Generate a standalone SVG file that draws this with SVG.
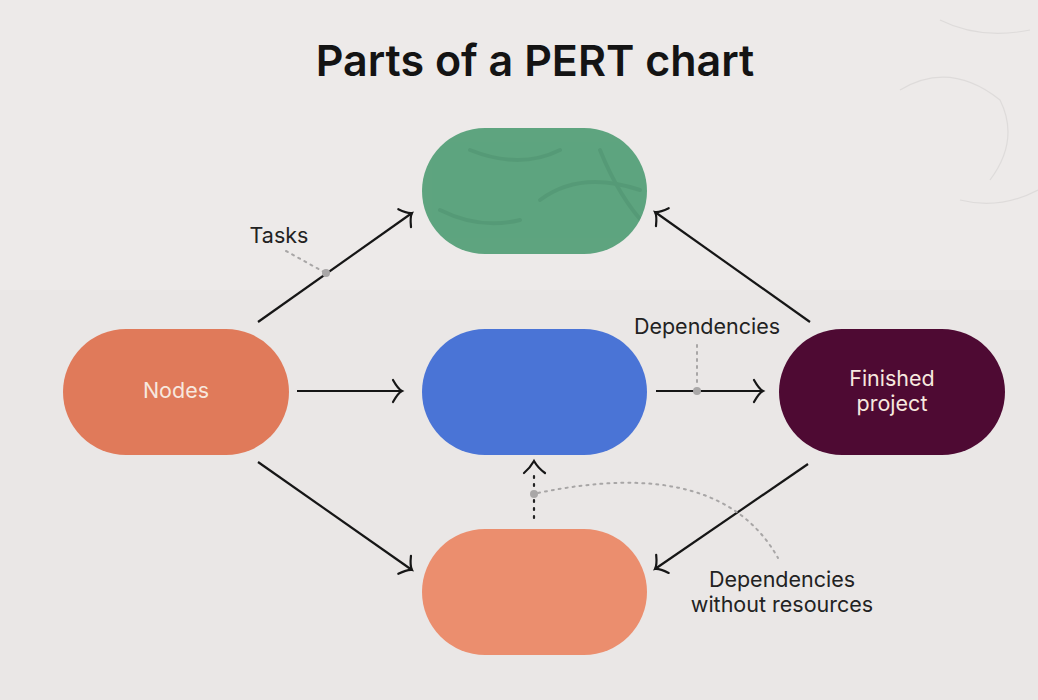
<svg xmlns="http://www.w3.org/2000/svg" width="1038" height="700" viewBox="0 0 1038 700">
  <style>
    .title { font-family: Inter, "Liberation Sans", sans-serif; font-weight: 600; font-size: 43px; fill: #141414; }
    .lbl { font-family: Inter, "Liberation Sans", sans-serif; font-size: 21.5px; fill: #222; }
    .nlbl { font-family: Inter, "Liberation Sans", sans-serif; font-size: 21.5px; fill: #F7E8DF; }
    .conn { stroke: #161616; stroke-width: 2.2; fill: none; }
    .dotted { stroke: #A8A6A6; stroke-width: 2; stroke-dasharray: 2 5; stroke-linecap: round; fill: none; }
    .blackdot { stroke: #222; stroke-width: 2.2; stroke-dasharray: 2 6; stroke-linecap: round; fill: none; }
    .pt { fill: #A9A7A7; }
  </style>
  <defs>
    <marker id="arr" markerUnits="userSpaceOnUse" markerWidth="30" markerHeight="30" viewBox="-20 -15 30 30" refX="0" refY="0" orient="auto">
      <path d="M -9 -11 Q -4 -2 0 0 Q -4 2 -9 11" fill="none" stroke="#161616" stroke-width="2.2" stroke-linecap="round"/>
    </marker>
    <clipPath id="gclip"><rect x="422" y="128" width="225" height="126" rx="63"/></clipPath>
  </defs>
  <rect width="1038" height="700" fill="#EDEAE9"/>
  <rect y="290" width="1038" height="410" fill="#EAE7E6"/>
  <g opacity="0.12" fill="none" stroke="#777" stroke-width="1.2">
    <path d="M 900 90 Q 950 60 1000 100 Q 1020 140 990 180"/>
    <path d="M 940 20 Q 980 40 1030 30"/>
    <path d="M 960 200 Q 1000 210 1038 190"/>
  </g>

  <text class="title" x="535" y="76" text-anchor="middle">Parts of a PERT chart</text>

  <g id="connectors">
    <line class="conn" x1="258" y1="322" x2="412" y2="213" marker-end="url(#arr)"/>
    <line class="conn" x1="297" y1="391" x2="402" y2="391" marker-end="url(#arr)"/>
    <line class="conn" x1="258" y1="462" x2="412" y2="570" marker-end="url(#arr)"/>
    <line class="conn" x1="656" y1="391" x2="763" y2="391" marker-end="url(#arr)"/>
    <line class="conn" x1="810" y1="322" x2="655" y2="212" marker-end="url(#arr)"/>
    <line class="conn" x1="808" y1="464" x2="655" y2="569" marker-end="url(#arr)"/>
    <line class="blackdot" x1="534" y1="518" x2="534" y2="476"/>
    <path d="M 524 473 Q 530 468 534 461 Q 538 468 545 473" fill="none" stroke="#161616" stroke-width="2.2" stroke-linecap="round"/>
    <line class="dotted" x1="286" y1="251" x2="324" y2="272"/>
    <circle class="pt" cx="326" cy="273" r="4"/>
    <line class="dotted" x1="697" y1="345" x2="697" y2="387"/>
    <circle class="pt" cx="697" cy="391" r="4"/>
    <path class="dotted" d="M 538 493 Q 720 455 778 558"/>
    <circle class="pt" cx="534" cy="494" r="4"/>
  </g>

  <g id="node-tasks">
    <rect x="422" y="128" width="225" height="126" rx="63" fill="#5EA47F"/>
    <g clip-path="url(#gclip)" fill="none" stroke="#3F7E5F" stroke-width="4" opacity="0.25" stroke-linecap="round">
      <path d="M 470 150 Q 520 170 560 150"/>
      <path d="M 540 200 Q 580 170 640 190"/>
      <path d="M 600 150 Q 620 200 650 230"/>
      <path d="M 440 210 Q 480 230 520 220"/>
    </g>
  </g>
  <g id="node-nodes">
    <rect x="63" y="329" width="226" height="126" rx="63" fill="#E07A5A"/>
    <text class="nlbl" x="176" y="398" text-anchor="middle">Nodes</text>
  </g>
  <g id="node-middle">
    <rect x="422" y="329" width="225" height="126" rx="63" fill="#4A74D6"/>
  </g>
  <g id="node-bottom">
    <rect x="422" y="529" width="225" height="126" rx="63" fill="#EB8E6E"/>
  </g>
  <g id="node-finished">
    <rect x="779" y="329" width="226" height="126" rx="63" fill="#4E0A33"/>
    <text class="nlbl" x="892" y="386" text-anchor="middle">Finished</text>
    <text class="nlbl" x="892" y="411" text-anchor="middle">project</text>
  </g>

  <g id="labels">
    <text class="lbl" x="279" y="243" text-anchor="middle">Tasks</text>
    <text class="lbl" x="707" y="334" text-anchor="middle">Dependencies</text>
    <text class="lbl" x="782" y="587" text-anchor="middle">Dependencies</text>
    <text class="lbl" x="782" y="612" text-anchor="middle">without resources</text>
  </g>
</svg>
